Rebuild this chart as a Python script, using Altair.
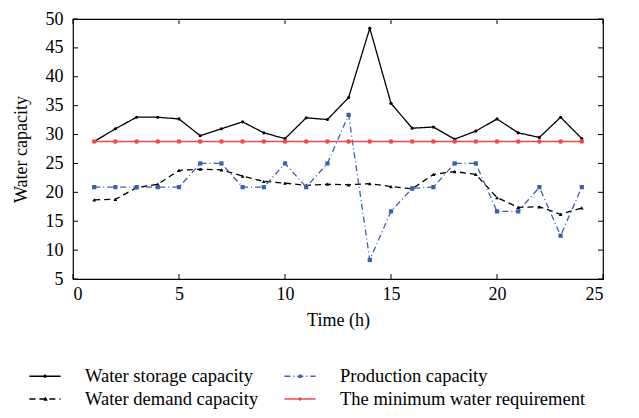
import altair as alt
import pandas as pd

hours = list(range(1, 25))
storage = [28.8, 31.0, 33.0, 33.0, 32.7, 29.8, 31.0, 32.2, 30.3, 29.3, 32.9, 32.6,
           36.4, 48.4, 35.4, 31.1, 31.3, 29.2, 30.6, 32.7, 30.3, 29.5, 33.0, 29.3]
demand = [18.7, 18.8, 20.8, 21.4, 23.8, 24.0, 23.9, 22.8, 21.9, 21.6, 21.2, 21.4,
          21.3, 21.5, 21.0, 20.6, 23.1, 23.6, 23.1, 19.1, 17.4, 17.5, 16.2, 17.3]
production = [20.9, 20.9, 20.9, 20.9, 20.9, 25.0, 25.0, 20.9, 20.9, 25.0, 20.9, 25.0,
              33.4, 8.3, 16.7, 20.7, 20.9, 25.0, 25.0, 16.7, 16.7, 20.9, 12.5, 20.9]
minimum = [28.8, 28.8, 28.8, 28.8, 28.8, 28.8, 28.8, 28.8, 28.8, 28.8, 28.8, 28.8,
           28.8, 28.8, 28.8, 28.8, 28.8, 28.8, 28.8, 28.8, 28.8, 28.8, 28.8, 28.8]

names = ["Water storage capacity", "Water demand capacity",
         "Production capacity", "The minimum water requirement"]
colors = ["#000000", "#000000", "#3d5fb0", "#f04848"]
dashes = [[1, 0], [6, 4], [6, 3, 1, 3], [1, 0]]
widths = [1.3, 1.3, 1.3, 2.2]
shapes = ["circle", "triangle-up", "square", "circle"]
sizes = [10, 22, 12, 10]
# legend glyphs: a line with the marker in its middle
legend_glyphs = [
    "M-1.3,0H1.3M-0.08,0a0.08,0.08 0 1,0 0.16,0a0.08,0.08 0 1,0 -0.16,0",
    "M-1.3,0H1.3M0,-0.14L0.13,0.09L-0.13,0.09Z",
    "M-1.3,0H1.3M-0.08,-0.08H0.08V0.08H-0.08Z",
    "M-1.3,0H1.3M-0.08,0a0.08,0.08 0 1,0 0.16,0a0.08,0.08 0 1,0 -0.16,0",
]

x_ticks = [0, 5, 10, 15, 20, 25]
y_ticks = [5, 10, 15, 20, 25, 30, 35, 40, 45, 50]

rows = []
for name, vals in zip(names, [storage, demand, production, minimum]):
    for h, v in zip(hours, vals):
        rows.append({"hour": h, "value": v, "series": name})
df = pd.DataFrame(rows)

W, H = 530, 260
FONT = "Liberation Serif"

x_scale = alt.Scale(domain=[0, 25], nice=False)
y_scale = alt.Scale(domain=[5, 50], nice=False)
x_axis = alt.Axis(values=x_ticks, ticks=False, domain=False, grid=False,
                  labelPadding=6, titlePadding=8, labelOverlap=False)
y_axis = alt.Axis(values=y_ticks, ticks=False, domain=False, grid=False,
                  labelPadding=10, titlePadding=15, labelOverlap=False)
xs = alt.X("hour:Q", scale=x_scale, axis=x_axis, title="Time (h)")
ys = alt.Y("value:Q", scale=y_scale, axis=y_axis, title="Water capacity")

leg = alt.Legend(title=None, orient="none", legendX=-41, legendY=344, columns=2,
                 symbolSize=576, symbolStrokeWidth=1.5, symbolOpacity=1,
                 labelOffset=27, labelFontSize=18.5, labelFont=FONT, labelColor="#000",
                 rowPadding=0, columnPadding=22, labelLimit=400)

lines = alt.Chart(df).mark_line().encode(
    x=xs, y=ys,
    color=alt.Color("series:N", scale=alt.Scale(domain=names, range=colors), legend=None),
    strokeDash=alt.StrokeDash("series:N", scale=alt.Scale(domain=names, range=dashes), legend=None),
    strokeWidth=alt.StrokeWidth("series:N", scale=alt.Scale(domain=names, range=widths), legend=None),
)
points = alt.Chart(df).mark_point(filled=True, opacity=1).encode(
    x=xs, y=ys,
    color=alt.Color("series:N", scale=alt.Scale(domain=names, range=colors), legend=None),
    shape=alt.Shape("series:N", scale=alt.Scale(domain=names, range=shapes), legend=None),
    size=alt.Size("series:N", scale=alt.Scale(domain=names, range=sizes), legend=None),
)
ghost = alt.Chart(df).mark_point(filled=False, opacity=0, size=576, strokeWidth=1.5).encode(
    x=xs, y=ys,
    color=alt.Color("series:N", scale=alt.Scale(domain=names, range=colors), legend=leg),
    strokeDash=alt.StrokeDash("series:N", scale=alt.Scale(domain=names, range=dashes), legend=leg),
    shape=alt.Shape("series:N", scale=alt.Scale(domain=names, range=legend_glyphs), legend=leg),
)

xt = pd.DataFrame({"t": x_ticks})
yt = pd.DataFrame({"t": y_ticks})
tx = alt.X("t:Q", scale=x_scale, axis=x_axis, title="Time (h)")
ty = alt.Y("t:Q", scale=y_scale, axis=y_axis, title="Water capacity")
tick_b = alt.Chart(xt).mark_rule(color="black").encode(x=tx, y=alt.value(H), y2=alt.value(H - 5))
tick_t = alt.Chart(xt).mark_rule(color="black").encode(x=tx, y=alt.value(0), y2=alt.value(5))
tick_l = alt.Chart(yt).mark_rule(color="black").encode(y=ty, x=alt.value(0), x2=alt.value(5))
tick_r = alt.Chart(yt).mark_rule(color="black").encode(y=ty, x=alt.value(W), x2=alt.value(W - 5))

chart = alt.layer(lines, points, ghost, tick_b, tick_t, tick_l, tick_r).resolve_scale(
    color="independent", shape="independent", strokeDash="independent", size="independent"
).properties(
    width=W, height=H,
    autosize=alt.AutoSizeParams(type="none"),
    padding={"left": 65, "top": 11, "right": 20, "bottom": 131},
).configure_view(stroke="black", strokeWidth=1.2).configure_axis(
    labelFont=FONT, labelFontSize=18, labelColor="#000",
    titleFont=FONT, titleFontSize=18, titleFontWeight="normal", titleColor="#000",
)

chart.save("out.html", embed_options={"renderer": "svg", "actions": False})
